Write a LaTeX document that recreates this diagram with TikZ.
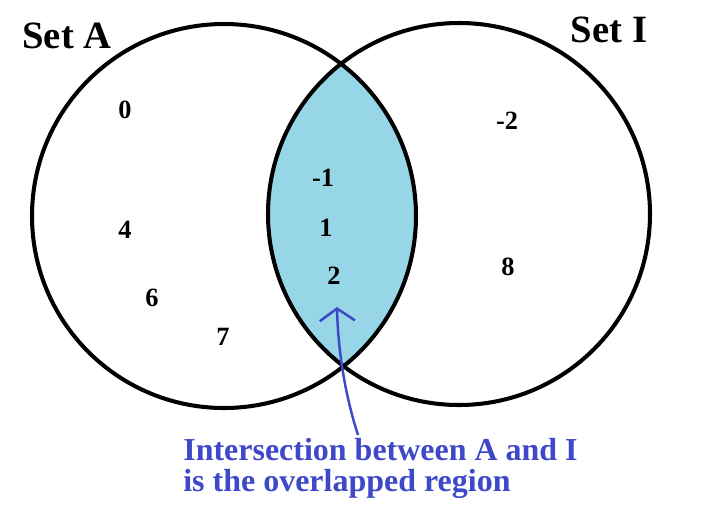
\documentclass[tikz,border=0pt]{standalone}
\usepackage{fontspec}
\setmainfont{Liberation Serif}
\usetikzlibrary{arrows.meta}
\definecolor{lapblue}{RGB}{150,214,230}
\definecolor{notecol}{RGB}{62,72,200}
\tikzset{
    setline/.style = {line width=2.3pt,draw=black},
    settitle/.style = {font=\fontsize{22}{22}\selectfont\bfseries,inner sep=0pt},
    elem/.style = {font=\fontsize{15}{15}\selectfont\bfseries,inner sep=1pt},
    note/.style = {font=\fontsize{18.2}{17.6}\selectfont\bfseries,text=notecol,align=left,inner sep=0pt},
    pointer/.style = {line width=1.4pt,draw=notecol,-{Straight Barb[length=7pt,width=20pt,line width=1.4pt]}}
}
\begin{document}
\begin{tikzpicture}[x=0.02cm,y=-0.02cm]
\path[use as bounding box,fill=white] (0,0) rectangle (718,515);
%
\begin{scope}
\clip (224,216) circle (192);
\fill[lapblue] (459,214) circle (191);
\end{scope}
\draw[setline] (224,216) circle (192);
\draw[setline] (459,214) circle (191);
%
\node[settitle] at (67,36) (ta) {Set A};
\node[settitle] at (609,30) (ti) {Set I};
%
\node[elem] at (125,110) (e0) {0};
\node[elem] at (125,230) (e4) {4};
\node[elem] at (152,298) (e6) {6};
\node[elem] at (223,337) (e7) {7};
\node[elem] at (323,178) (m1) {-1};
\node[elem] at (326,228) (p1) {1};
\node[elem] at (334,276) (p2) {2};
\node[elem] at (507,121) (m2) {-2};
\node[elem] at (508,267) (e8) {8};
%
\node[note,anchor=north west] at (183,438) (cap) {Intersection between A and I\\is the overlapped region};
\coordinate (tip) at (337,307);
\coordinate (tail) at (358,435);
\draw[pointer] (tail) .. controls (345,395) and (338,350) .. (tip);

\end{tikzpicture}
\end{document}
